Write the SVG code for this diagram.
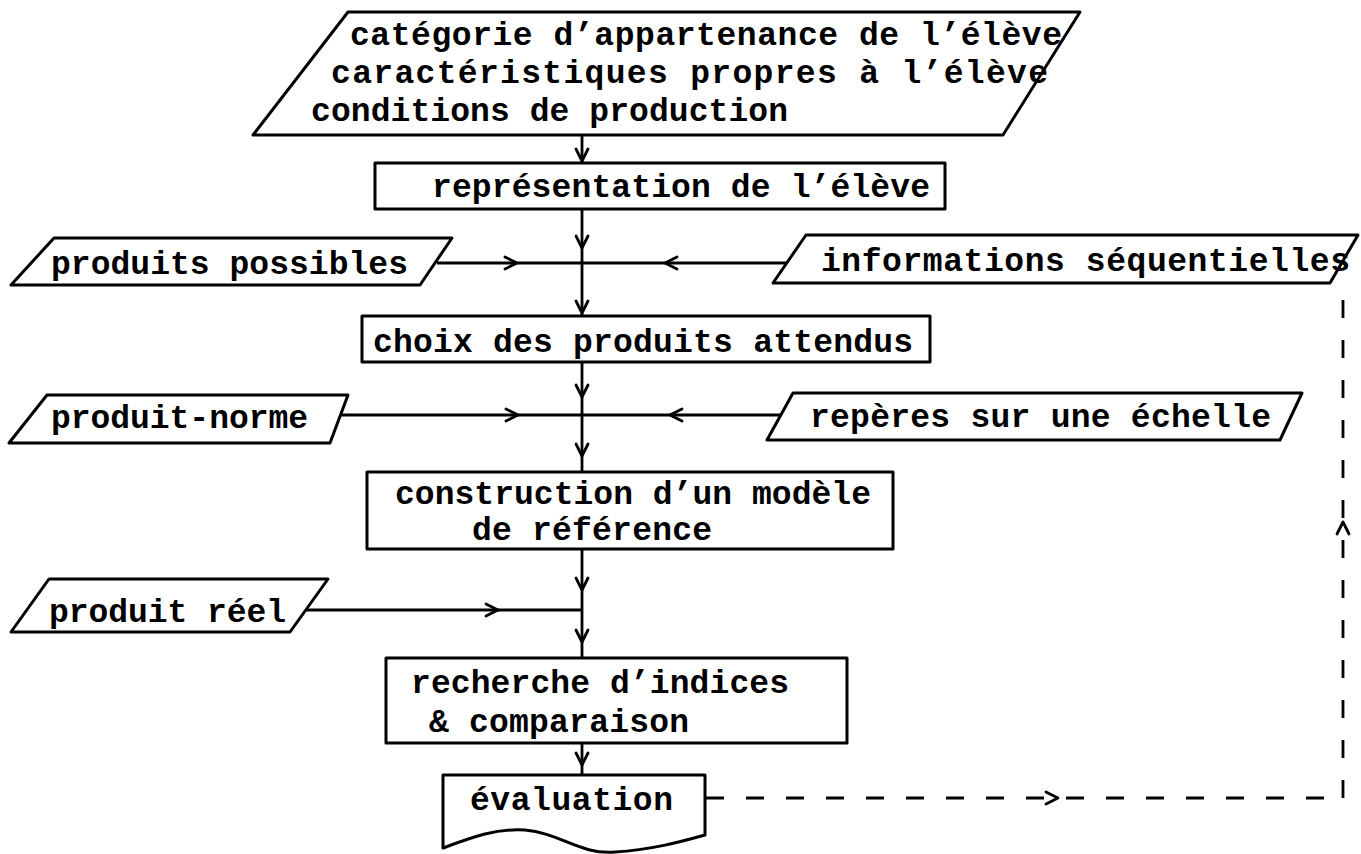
<svg xmlns="http://www.w3.org/2000/svg" xmlns:xlink="http://www.w3.org/1999/xlink" width="1361" height="854" viewBox="0 0 1361 854">
<style>
.shape{fill:#fff;stroke:#000;stroke-width:3;stroke-linejoin:round}
.t{font-family:"Liberation Mono","Courier New",monospace;font-size:33px;font-weight:bold;fill:#000}
.ln{fill:none;stroke:#000;stroke-width:2.8}
.dash{fill:none;stroke:#000;stroke-width:2.8;stroke-dasharray:18 22}
.ah{fill:none;stroke:#000;stroke-width:2.8;stroke-linecap:round;stroke-linejoin:round}
</style>
<defs>
<path id="ad" class="ah" d="M-6,-12 L0,0 L6,-12"/>
</defs>
<rect width="1361" height="854" fill="#fff"/>

<g id="connectors">
<line class="ln" x1="582" y1="135" x2="582" y2="163"/>
<line class="ln" x1="582" y1="209" x2="582" y2="316"/>
<line class="ln" x1="582" y1="362" x2="582" y2="472"/>
<line class="ln" x1="582" y1="550" x2="582" y2="658"/>
<line class="ln" x1="582" y1="743" x2="582" y2="775"/>
<line class="ln" x1="437" y1="263" x2="790" y2="263"/>
<line class="ln" x1="340" y1="415" x2="780" y2="415"/>
<line class="ln" x1="306" y1="610" x2="582" y2="610"/>
<line class="dash" x1="706" y1="798" x2="1343" y2="798"/>
<line class="dash" x1="1343" y1="798" x2="1343" y2="288"/>
<use xlink:href="#ad" transform="translate(582,161)"/>
<use xlink:href="#ad" transform="translate(582,248)"/>
<use xlink:href="#ad" transform="translate(582,313)"/>
<use xlink:href="#ad" transform="translate(582,397)"/>
<use xlink:href="#ad" transform="translate(582,456)"/>
<use xlink:href="#ad" transform="translate(582,590)"/>
<use xlink:href="#ad" transform="translate(582,642)"/>
<use xlink:href="#ad" transform="translate(582,765)"/>
<use xlink:href="#ad" transform="translate(517,263) rotate(-90)"/>
<use xlink:href="#ad" transform="translate(518,415) rotate(-90)"/>
<use xlink:href="#ad" transform="translate(498,610) rotate(-90)"/>
<use xlink:href="#ad" transform="translate(665,263) rotate(90)"/>
<use xlink:href="#ad" transform="translate(670,415) rotate(90)"/>
<use xlink:href="#ad" transform="translate(1058,798) rotate(-90)"/>
<use xlink:href="#ad" transform="translate(1343,522) rotate(180)"/>
</g>

<g id="inputs-top">
<polygon class="shape" points="348,12 1080,12 1003,135 253,135"/>
<text class="t" x="350" y="45" textLength="712" lengthAdjust="spacing">catégorie d’appartenance de l’élève</text>
<text class="t" x="331" y="83" textLength="717" lengthAdjust="spacing">caractéristiques propres à l’élève</text>
<text class="t" x="311" y="121" textLength="477" lengthAdjust="spacing">conditions de production</text>
</g>

<g id="representation">
<rect class="shape" x="375" y="163" width="570" height="46"/>
<text class="t" x="432" y="197" textLength="498" lengthAdjust="spacing">représentation de l’élève</text>
</g>

<g id="produits-possibles">
<polygon class="shape" points="54,238 452,238 420,285 11,285"/>
<text class="t" x="51" y="274" textLength="357" lengthAdjust="spacing">produits possibles</text>
</g>

<g id="informations-sequentielles">
<polygon class="shape" points="806,235 1358,235 1330,283 773,283"/>
<text class="t" x="821" y="271" textLength="529" lengthAdjust="spacing">informations séquentielles</text>
</g>

<g id="choix">
<rect class="shape" x="362" y="316" width="568" height="46"/>
<text class="t" x="373" y="352" textLength="540" lengthAdjust="spacing">choix des produits attendus</text>
</g>

<g id="produit-norme">
<polygon class="shape" points="47,395 348,395 330,443 9,443"/>
<text class="t" x="51" y="428" textLength="257" lengthAdjust="spacing">produit-norme</text>
</g>

<g id="reperes">
<polygon class="shape" points="793,393 1302,393 1280,440 767,440"/>
<text class="t" x="810" y="427" textLength="461" lengthAdjust="spacing">repères sur une échelle</text>
</g>

<g id="construction">
<rect class="shape" x="367" y="472" width="526" height="77"/>
<text class="t" x="395" y="504" textLength="476" lengthAdjust="spacing">construction d’un modèle</text>
<text class="t" x="472" y="540" textLength="240" lengthAdjust="spacing">de référence</text>
</g>

<g id="produit-reel">
<polygon class="shape" points="49,579 328,579 290,632 11,632"/>
<text class="t" x="49" y="622" textLength="237" lengthAdjust="spacing">produit réel</text>
</g>

<g id="recherche">
<rect class="shape" x="386" y="658" width="461" height="85"/>
<text class="t" x="411" y="693" textLength="378" lengthAdjust="spacing">recherche d’indices</text>
<text class="t" x="429" y="732" textLength="260" lengthAdjust="spacing">&amp; comparaison</text>
</g>

<g id="evaluation">
<path class="shape" d="M443,775 H705 V835 C680,842 650,850 615,852 C580,855 560,833 525,830 C495,828 470,838 443,848 Z"/>
<text class="t" x="470" y="810" textLength="203" lengthAdjust="spacing">évaluation</text>
</g>
</svg>
